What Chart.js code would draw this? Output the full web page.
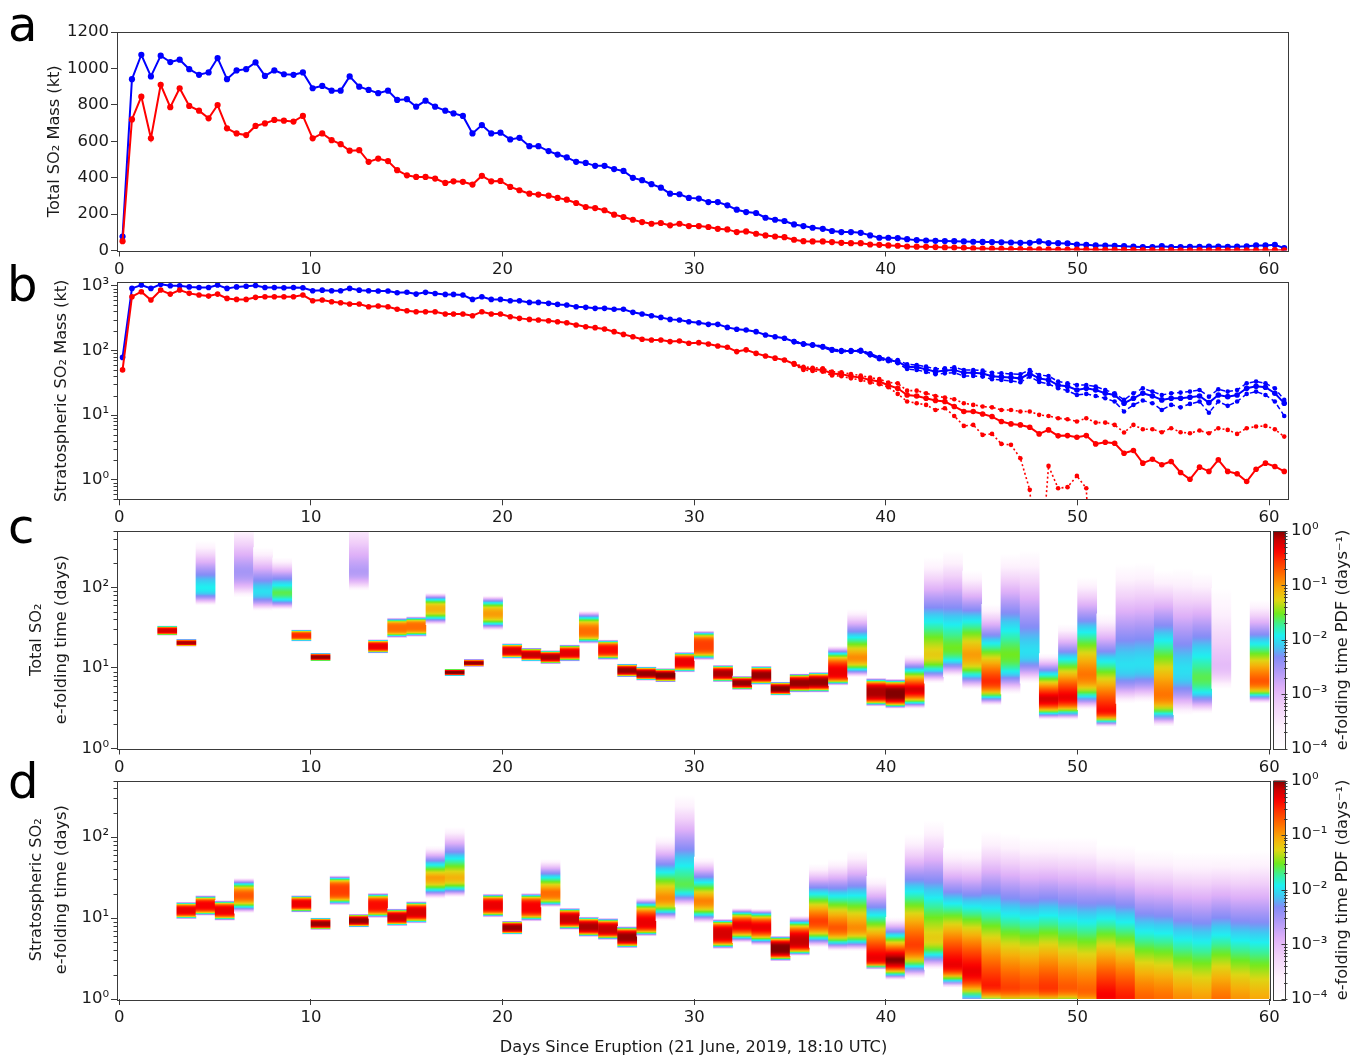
<!DOCTYPE html>
<html><head><meta charset="utf-8">
<script src="https://cdn.jsdelivr.net/npm/chart.js@4.4.1/dist/chart.umd.min.js"></script>
<style>
html,body{margin:0;padding:0;background:#fff;}
body{position:relative;width:1353px;height:1056px;overflow:hidden;}
canvas{position:absolute;left:0;}
.pl{position:absolute;font-family:'DejaVu Sans';font-size:48px;line-height:48px;color:#000;}
.cbt{position:absolute;font-family:'DejaVu Sans';font-size:16.2px;line-height:1;color:#1a1a1a;white-space:nowrap;transform:translate(-50%,-50%) rotate(-90deg);}
</style></head>
<body>
<canvas id="ca" width="1353" height="290" style="top:0px"></canvas>
<canvas id="cb" width="1353" height="270" style="top:270px"></canvas>
<canvas id="cc" width="1353" height="270" style="top:515px"></canvas>
<canvas id="cd" width="1353" height="294" style="top:765px"></canvas>
<div class="pl" style="left:8px;top:0px">a</div>
<div class="pl" style="left:7px;top:260px">b</div>
<div class="pl" style="left:8px;top:502px">c</div>
<div class="pl" style="left:8px;top:757px">d</div>
<div class="cbt" style="left:1342px;top:640px">e-folding time PDF (days⁻¹)</div>
<div class="cbt" style="left:1342px;top:890px">e-folding time PDF (days⁻¹)</div>
<script>
// ---------------- data ----------------
const days = [0.17,0.66,1.15,1.65,2.16,2.66,3.15,3.65,4.16,4.66,5.13,5.62,6.12,6.62,7.11,7.60,8.09,8.59,9.09,9.58,10.09,10.59,11.08,11.55,12.02,12.52,13.01,13.51,14.02,14.50,15.01,15.49,15.98,16.48,17.01,
17.44,17.93,18.43,18.92,19.41,19.89,20.40,20.88,21.40,21.87,22.40,22.87,23.35,23.84,24.34,24.83,25.32,25.82,26.31,26.80,27.28,27.77,28.26,28.74,29.23,29.72,30.24,30.74,31.23,31.73,32.22,32.71,33.23,33.72,34.22,34.71,35.21,35.70,36.18,36.71,37.19,37.68,38.18,38.69,39.18,39.66,40.13,
40.62,41.11,41.61,42.10,42.59,43.08,43.57,44.07,44.56,45.05,45.54,46.03,46.53,47.02,47.51,48.00,48.49,48.99,49.48,49.97,50.46,50.95,51.45,51.94,52.43,52.92,53.41,53.91,54.40,54.89,55.38,55.87,56.37,56.86,57.35,57.84,58.33,58.83,59.32,59.81,60.30,60.79];

const totalBlue = [77,941,1075,956,1070,1035,1048,996,965,978,1057,941,989,996,1033,959,989,968,965,978,891,904,878,878,956,900,882,864,878,827,831,790,823,790,768,
753,739,643,689,643,647,610,619,573,573,546,527,511,487,481,465,465,447,437,399,386,364,345,312,309,289,285,266,266,248,224,211,206,180,169,162,143,134,125,119,107,101,101,97,83,70,70,
68,62,57,55,53,52,51,50,48,47,46,45,44,42,42,50,41,40,39,33,31,28,27,26,24,21,19,19,24,19,19,20,20,21,22,20,21,23,28,28,31,13];

const totalRed = [51,720,845,616,910,787,891,794,768,726,799,671,643,634,684,698,717,713,708,739,616,643,606,584,548,551,487,505,491,441,413,404,404,395,371,
380,377,362,410,380,382,349,331,312,307,301,289,279,261,239,233,221,197,184,169,156,147,151,138,147,134,134,129,119,116,101,105,92,83,77,73,59,51,50,50,46,42,40,40,33,31,28,
26,22,21,20,19,17,16,14,12,11,10,9,8,8,7,6,6,5,5,5,5,4,4,4,3,3,2,2,2,2,1.5,1,1.6,1.4,2,1.4,1.3,1,1.5,1.8,1.6,1.4];

const stratBlue = [78,910,1024,910,1050,1000,1000,960,940,940,1024,910,960,980,1010,940,940,930,940,930,837,855,837,837,910,855,837,828,828,780,795,743,790,760,735,
735,718,615,676,615,615,587,587,553,553,534,515,503,474,463,447,447,432,432,388,365,344,324,302,295,278,268,253,253,227,212,207,195,173,163,154,137,126,121,114,102,98,98,99,87,76,71,
67,56,55,51,47,49,50,45,45,44,40,39,38,37,44,37,35,29,28,24.5,26,24.5,21.8,20.5,15.3,18.2,21.8,19.8,17.2,18.2,18.2,18.9,19.8,15.6,20.5,19.3,20.5,26,28,27,21.8,15.3];

const stratRed = [50,677,808,601,857,743,857,762,718,692,743,637,615,615,661,677,677,677,677,718,587,601,566,547,521,521,474,485,474,432,411,397,397,397,365,
365,365,344,397,365,365,332,313,302,295,288,278,268,247,232,225,214,195,177,163,149,145,145,137,140,129,132,126,117,112,96,102,90,82,76,71,62,53,51,50,44,43,40,38,35,33,29,
26.0,20.5,19.8,18.2,16.8,16.2,13.6,11.4,11.4,10.4,9.5,7.96,7.32,7.06,6.50,5.13,5.91,4.78,4.83,4.56,4.83,3.59,3.81,3.68,2.58,2.84,1.81,2.08,1.71,1.92,1.30,1.02,1.57,1.35,2.04,1.35,1.24,0.94,1.46,1.81,1.61,1.35];

// uncertainty bounds (start at days[boundStart])
const boundStart = 71;
const stratBlueHi = [140,129,124,117,105,101,101,102,90,79,74,
71.2,61.1,59.6,56.2,51.7,52.9,54.9,49.9,49.9,48.7,45.3,44.2,43.3,42.8,49.9,41.8,40.3,33.0,31.1,29.2,29.2,27.6,24.5,21.8,17.2,21.8,26.0,23.1,20.5,21.8,22.3,23.1,24.5,19.3,25.1,23.1,24.5,31.1,33.0,31.1,26.0,17.2];
const stratBlueLo = [134,123,118,111,99,95,95,96,84,73,68,
63.2,51.7,49.9,46.5,42.8,44.2,45.3,40.3,40.3,39.4,35.8,35.0,33.8,32.2,39.4,32.6,30.3,26.0,23.9,20.5,21.3,19.8,18.2,16.2,11.4,14.4,16.8,15.3,12.0,14.4,13.2,14.9,16.2,10.9,16.2,13.9,16.2,21.3,23.1,20.5,16.2,9.7];
const stratRedHi = [64,56,54,53,47,46,43,41,38,36,32,
31.1,23.9,23.9,21.8,19.8,18.7,17.6,15.3,14.4,13.6,13.2,12.0,12.0,11.4,11.4,10.1,9.7,8.95,8.64,7.96,8.95,7.67,7.67,7.06,5.38,7.06,6.06,6.06,5.44,6.28,5.44,5.25,5.78,5.25,6.28,5.91,5.13,6.28,6.66,6.82,6.06,4.66];
const stratRedLo = [60,50,48,47,41,40,37,35,32,30,27,
21.3,16.2,15.3,14.4,12.0,12.8,9.7,6.82,7.06,4.95,5.13,3.59,3.47,2.16,0.70,0.02,1.64,0.74,0.77,1.15,0.74,0.001,
null,null,null,null,null,null,null,null,null,null,null,null,null,null,null,null,null,null,null,null];

// e-folding time PDF columns, panel c (total SO2): start day, lower/peak/upper tau (days), peak PDF
const cDay  = [2,3,4,6,7,8,9,10,12,13,14,15,16,17,18,19,20,21,22,23,24,25,26,27,28,29,30,31,32,33,34,35,36,37,38,39,40,41,42,43,44,45,46,47,48,49,50,51,52,53,54,55,56,57,59];
const cLo   = [25,18.3,59.3,75,51,52.4,21.1,12.0,90.5,15.0,23.3,24.1,34,7.9,10.3,28.9,12.9,11.9,11.1,11.9,19.7,12.4,7.6,6.9,6.6,8.7,12.3,6.6,5.3,6.1,4.5,4.9,4.9,6.0,7.6,3.3,3.1,3.1,6.4,7.7,5.3,3.4,4.7,6.4,2.26,2.26,3.0,1.85,3.6,3.7,1.87,2.6,2.7,5.5,3.6];
const cMid  = [29,20.5,100,161,91,87,25.2,13.6,161,18.5,31.4,32.6,54,8.8,11.5,46.8,16.2,14.6,13.6,15.3,29.1,16.8,9.3,8.5,8.1,11.8,19,8.5,6.5,8.1,5.5,6.5,6.7,8.9,13.6,5.0,4.8,5.5,15,18,15,7,15,16.5,4.2,4.4,8.5,3.0,11.3,11.8,4.8,10,7.7,11,7];
const cHi   = [33.8,22.9,378,640,314,235,30.2,15.4,807,22.8,42.4,44,86,9.8,12.9,79.7,20.4,17.9,16.7,19.7,51.7,22.7,11.4,10.5,10.0,16.0,29.4,11.0,8.0,10.7,6.8,8.6,9.0,19.0,54,7.6,7.4,14.8,238,285,161,62,261,287,15.2,35,135,47.5,196,205,162,174,154,98,70];
const cPeak = [0.6,0.8,0.012,0.003,0.01,0.025,0.3,0.9,0.0025,0.5,0.16,0.16,0.08,1.0,0.9,0.1,0.6,0.7,0.8,0.55,0.16,0.4,0.9,0.9,1.0,0.5,0.25,0.8,0.9,0.9,1.0,0.9,0.9,0.5,0.12,0.8,1.0,0.6,0.06,0.03,0.1,0.3,0.03,0.01,0.6,0.5,0.15,0.4,0.01,0.01,0.15,0.01,0.025,0.001,0.2];

// panel d (stratospheric SO2)
const dDay  = [3,4,5,6,9,10,11,12,13,14,15,16,17,19,20,21,22,23,24,25,26,27,28,29,30,31,32,33,34,35,36,37,38,39,40,41,42,43,44,45,46,47,48,49,50,51,52,53,54,55,56,57,58,59];
const dLo   = [9.6,10.6,9.2,11.4,11.6,7.1,14.2,7.6,9.9,7.9,8.5,17.2,18,10.1,6.2,9.0,13.6,7.1,5.8,5.3,4.2,5.9,9.2,13.6,8.5,4.1,4.9,4.5,2.9,3.4,4.3,3.9,3.9,2.3,1.7,1.8,2.3,1.38,0.79,0.75,0.7,0.7,0.7,0.7,0.6,0.5,0.5,0.5,0.5,0.5,0.5,0.5,0.5,0.5];
const dMid  = [12.4,14.3,12.4,19,15,8.5,22,9.3,14.3,10.2,11.8,32,32,14.3,7.6,13.6,21,9.8,7.8,7.3,5.8,8.9,18,26.5,16.5,6.4,8.1,7.7,4.2,5.3,9.3,7.7,7.7,3.3,3.1,4.8,5.8,2.7,2.24,1.5,1.4,1.4,1.4,1.4,1.3,1.1,1.05,1.05,1.05,1.0,1.0,1.0,1.0,1.0];
const dHi   = [16.0,19.3,16.7,31.5,19.3,10.2,34,11.3,20.7,13.2,16.3,78.5,133,20.2,9.3,20.6,54,13.5,10.5,10.1,8.0,18.2,104,334,57,9.9,13.4,13.1,6.1,10.8,46.6,54,69,33,10.3,110,160,74,74,119,111,101,100,100,100,81,80,70,70,65,65,65,65,70];
const dPeak = [0.5,0.45,0.5,0.2,0.5,0.9,0.25,0.9,0.4,0.7,0.6,0.1,0.08,0.5,0.9,0.45,0.16,0.7,0.8,0.7,0.9,0.5,0.12,0.025,0.13,0.6,0.5,0.5,1.0,0.7,0.25,0.2,0.12,0.5,1.0,0.25,0.06,0.5,0.5,0.35,0.25,0.22,0.28,0.2,0.18,0.45,0.35,0.18,0.16,0.12,0.1,0.16,0.11,0.09];

const xTickValues = [0,10,20,30,40,50,60];
const massTickValues = [0,200,400,600,800,1000,1200];

// ---------------- style ----------------
const TXT = '#1a1a1a', AX = '#3a3a3a', FS = 16.5, TFS = 16.2;
const BLUE = '#0000ff', RED = '#ff0000';
Chart.defaults.font.family = "'DejaVu Sans'";
Chart.defaults.color = TXT;

const SUP = {'0':'⁰','1':'¹','2':'²','3':'³','4':'⁴','5':'⁵','-':'⁻'};
const isPow10 = v => { const e = Math.log10(v); return Math.abs(e - Math.round(e)) < 1e-6; };
const powLabel = v => isPow10(v) ? '10' + String(Math.round(Math.log10(v))).split('').map(c => SUP[c]).join('') : '';

const CMAP = [
 [0.00,[255,255,255]],[0.10,[253,241,253]],[0.20,[241,208,249]],[0.28,[222,176,248]],
 [0.36,[172,152,246]],[0.42,[132,140,246]],[0.47,[64,200,242]],[0.52,[30,240,240]],
 [0.57,[60,240,150]],[0.62,[112,234,30]],[0.68,[222,214,20]],[0.73,[246,176,10]],
 [0.79,[255,120,0]],[0.86,[255,52,0]],[0.91,[250,0,0]],[0.96,[200,0,0]],[1.00,[130,0,0]]
];
function cmap(t) {
  t = Math.max(0, Math.min(1, t));
  for (let i = 1; i < CMAP.length; i++) {
    if (t <= CMAP[i][0]) {
      const [t0, c0] = CMAP[i-1], [t1, c1] = CMAP[i];
      const f = (t - t0) / (t1 - t0);
      return 'rgb(' + c0.map((c, k) => Math.round(c + (c1[k] - c) * f)).join(',') + ')';
    }
  }
  return 'rgb(130,0,0)';
}

function colGrad(chart, i, P) {
  const sc = chart.scales.y;
  if (!sc || !chart.chartArea || i === undefined) return 'rgba(0,0,0,0)';
  const L = Math.log10;
  const lo = L(P.lo[i]), mid = L(P.mid[i]), hi = L(P.hi[i]), pk = L(P.peak[i]);
  const yTop = sc.getPixelForValue(P.hi[i]), yBot = sc.getPixelForValue(P.lo[i]);
  const g = chart.ctx.createLinearGradient(0, yTop, 0, yBot);
  const wu = hi - mid, wd = mid - lo;
  const eu = wu < 0.2 ? 3.5 : (wu < 0.35 ? 2.2 : 1.25);
  const ed = wd < 0.2 ? 3.5 : 2.2;
  const N = 60;
  for (let k = 0; k <= N; k++) {
    const v = hi - (hi - lo) * k / N;
    const up = v >= mid;
    const u = Math.min(1, up ? (v - mid) / wu : (mid - v) / wd);
    const lp = pk - (pk + 4) * Math.pow(u, up ? eu : ed);
    g.addColorStop(k / N, cmap((lp + 4) / 4));
  }
  return g;
}

// ---------------- plugins ----------------
const framePlugin = {
  id: 'frame',
  afterDraw(chart) {
    const {ctx, chartArea: a} = chart;
    ctx.save();
    ctx.strokeStyle = AX; ctx.lineWidth = 1;
    const y = chart.scales.y;
    if (y && y.type === 'logarithmic') {
      const e0 = Math.floor(Math.log10(y.min)), e1 = Math.ceil(Math.log10(y.max));
      for (let e = e0; e <= e1; e++) for (let m = 2; m <= 9; m++) {
        const v = m * Math.pow(10, e);
        if (v < y.min || v > y.max) continue;
        const py = Math.round(y.getPixelForValue(v)) + 0.5;
        ctx.beginPath(); ctx.moveTo(a.left - 3.5, py); ctx.lineTo(a.left, py); ctx.stroke();
      }
    }
    ctx.strokeRect(Math.round(a.left) + 0.5, Math.round(a.top) + 0.5, Math.round(a.right - a.left), Math.round(a.bottom - a.top));
    ctx.restore();
  }
};
const cbarPlugin = {
  id: 'cbar',
  afterDraw(chart) {
    const cb = chart.scales.cb; if (!cb) return;
    const ctx = chart.ctx;
    const x0 = 1273.5, x1 = 1285.5;
    const yt = cb.getPixelForValue(1), yb = cb.getPixelForValue(1e-4);
    const g = ctx.createLinearGradient(0, yb, 0, yt);
    for (let i = 0; i <= 50; i++) g.addColorStop(i / 50, cmap(i / 50));
    ctx.save();
    ctx.fillStyle = g; ctx.fillRect(x0, yt, x1 - x0, yb - yt);
    ctx.strokeStyle = AX; ctx.lineWidth = 1;
    ctx.strokeRect(x0, Math.round(yt) + 0.5, x1 - x0, Math.round(yb - yt));
    for (let e = -4; e <= 0; e++) for (let m = 1; m <= 9; m++) {
      const v = m * Math.pow(10, e); if (v > 1.0000001) break;
      const py = Math.round(cb.getPixelForValue(v)) + 0.5;
      const L = m === 1 ? 6 : 3.5;
      ctx.beginPath(); ctx.moveTo(x1 - L + 2, py); ctx.lineTo(x1 + 2, py); ctx.stroke();
    }
    ctx.restore();
  }
};

// ---------------- helpers ----------------
const XMIN = -0.12;
function xAxis(max, xh, title) {
  const o = {
    type: 'linear', min: XMIN, max: max, offset: false,
    afterFit: s => { s.height = xh; },
    afterBuildTicks: s => { s.ticks = xTickValues.map(v => ({value: v})); },
    grid: {drawOnChartArea: false, drawTicks: true, tickLength: 6, tickColor: AX, offset: false},
    border: {display: false},
    ticks: {autoSkip: false, maxRotation: 0, minRotation: 0, padding: 3, color: TXT, font: {size: FS}, callback: v => String(v)}
  };
  if (title) o.title = {display: true, text: title, color: TXT, font: {size: TFS}, padding: {top: 0, bottom: 1}};
  return o;
}
function logY(min, max, title, lh, pt) {
  return {
    type: 'logarithmic', min: min, max: max, beginAtZero: false,
    afterFit: s => { s.width = 117; },
    grid: {drawOnChartArea: false, tickLength: 6, tickColor: c => (c.tick && isPow10(c.tick.value)) ? AX : 'rgba(0,0,0,0)'},
    border: {display: false},
    ticks: {autoSkip: false, padding: 2, color: TXT, font: {size: FS}, callback: v => powLabel(v)},
    title: {display: true, text: title, color: TXT, font: {size: TFS, lineHeight: lh}, padding: {top: pt, bottom: 0}}
  };
}
const pts = (xs, ys) => xs.map((x, i) => ({x: x, y: ys[i]}));
function lineDs(data, color, r, w, dash) {
  return {data: data, borderColor: color, backgroundColor: color, borderWidth: w, borderDash: dash || [],
    pointRadius: r, pointBackgroundColor: color, pointBorderColor: color, pointBorderWidth: 0,
    tension: 0, fill: false, spanGaps: false};
}
const baseOpts = {responsive: false, animation: false, devicePixelRatio: 1, events: [],
  plugins: {legend: {display: false}, tooltip: {enabled: false}}};

// ---------------- panel a ----------------
new Chart(document.getElementById('ca'), {
  type: 'line',
  data: {datasets: [
    lineDs(pts(days, totalRed), RED, 3.1, 2),
    lineDs(pts(days, totalBlue), BLUE, 3.1, 2)
  ]},
  options: Object.assign({}, baseOpts, {
    layout: {padding: {left: 0, right: 65.5, top: 32, bottom: 9.5}},
    scales: {
      x: xAxis(60.96, 30),
      y: {type: 'linear', min: 0, max: 1200,
        afterFit: s => { s.width = 117; },
        afterBuildTicks: s => { s.ticks = massTickValues.map(v => ({value: v})); },
        grid: {drawOnChartArea: false, tickLength: 6, tickColor: AX}, border: {display: false},
        ticks: {autoSkip: false, padding: 2, color: TXT, font: {size: FS}, callback: v => String(v)},
        title: {display: true, text: 'Total SO₂ Mass (kt)', color: TXT, font: {size: TFS}, padding: {top: 45.3, bottom: 0}}}
    }
  }),
  plugins: [framePlugin]
});

// ---------------- panel b ----------------
const bd = days.slice(boundStart);
new Chart(document.getElementById('cb'), {
  type: 'line',
  data: {datasets: [
    lineDs(pts(bd, stratRedLo), RED, 2.3, 1.6, [2, 2.5]),
    lineDs(pts(bd, stratRedHi), RED, 2.3, 1.6, [2, 2.5]),
    lineDs(pts(days, stratRed), RED, 2.8, 2),
    lineDs(pts(bd, stratBlueLo), BLUE, 2.3, 1.5, [5, 3]),
    lineDs(pts(bd, stratBlueHi), BLUE, 2.3, 1.5, [5, 3]),
    lineDs(pts(days, stratBlue), BLUE, 2.8, 2)
  ]},
  options: Object.assign({}, baseOpts, {
    layout: {padding: {left: 0, right: 65.5, top: 12.3, bottom: 10.7}},
    scales: {
      x: xAxis(60.96, 30),
      y: logY(0.5, 1130, 'Stratospheric SO₂ Mass (kt)', 1.2, 52.4)
    }
  }),
  plugins: [framePlugin]
});

// ---------------- panels c, d ----------------
function heatChart(id, P, title, padTop, padBot, xh, xTitle) {
  const data = P.day.map((d, i) => ({x: d + 0.5, y: [P.lo[i], P.hi[i]]}));
  return new Chart(document.getElementById(id), {
    type: 'bar',
    data: {datasets: [{
      data: data, xAxisID: 'x', yAxisID: 'y',
      backgroundColor: c => colGrad(c.chart, c.dataIndex, P),
      borderWidth: 0, barPercentage: 1.03, categoryPercentage: 1, grouped: false
    }]},
    options: Object.assign({}, baseOpts, {
      layout: {padding: {left: 0, right: 0, top: padTop, bottom: padBot}},
      scales: {
        x: xAxis(60.04, xh, xTitle),
        y: logY(1, 500, title, 1.58, 23.6),
        cb: {type: 'logarithmic', position: 'right', axis: 'y', min: 1e-4, max: 1,
          afterFit: s => { s.width = 83; },
          grid: {drawOnChartArea: false, drawTicks: true, tickLength: 19, tickColor: 'rgba(0,0,0,0)'},
          border: {display: false},
          ticks: {autoSkip: false, padding: 2, color: TXT, font: {size: FS}, callback: v => powLabel(v)}}
      }
    }),
    plugins: [framePlugin, cbarPlugin]
  });
}
heatChart('cc', {day: cDay, lo: cLo, mid: cMid, hi: cHi, peak: cPeak},
  ['Total SO₂', 'e-folding time (days)'], 16, 6.5, 30, null);
heatChart('cd', {day: dDay, lo: dLo, mid: dMid, hi: dHi, peak: dPeak},
  ['Stratospheric SO₂', 'e-folding time (days)'], 15.5, 0, 60, 'Days Since Eruption (21 June, 2019, 18:10 UTC)');
</script>
</body></html>
